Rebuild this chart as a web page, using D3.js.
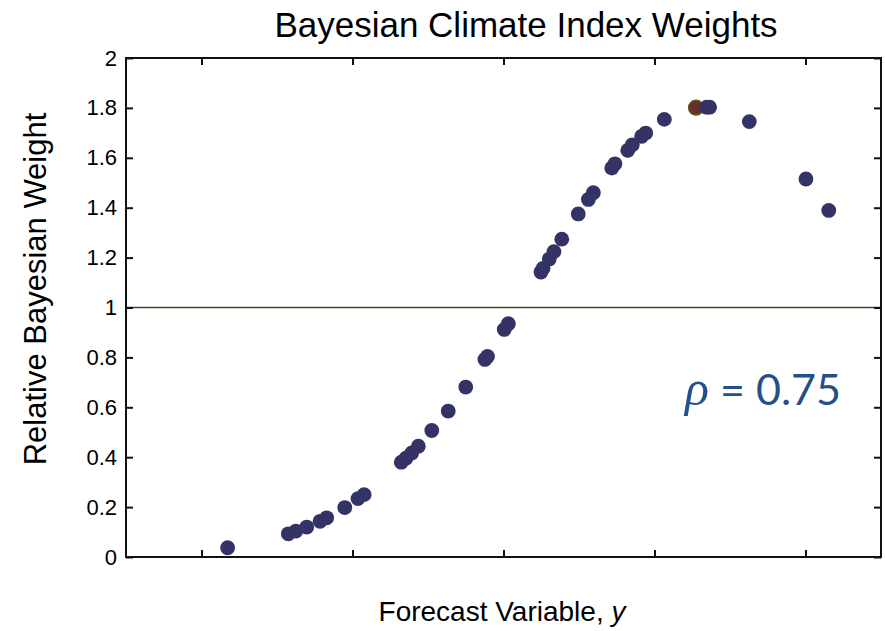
<!DOCTYPE html>
<html>
<head>
<meta charset="utf-8">
<script src="https://cdn.jsdelivr.net/npm/d3@7"></script>
<style>
    html, body { margin: 0; padding: 0; background: #ffffff; }
    #chart-vis text { font-family: Arial, "Liberation Sans", sans-serif; }
</style>
</head>
<body>
<div id="chart-vis"></div>
<script>

/* Data -------------------------------------------------------------------- */

// Forecast variable (x) and relative Bayesian weight (y)
const forecastValues = [
    1.173, 1.575, 1.625, 1.697, 1.785, 1.829, 1.949, 2.036, 2.077, 2.323,
    2.354, 2.392, 2.436, 2.525, 2.634, 2.750, 2.877, 2.894, 3.005, 3.032,
    3.248, 3.262, 3.303, 3.334, 3.386, 3.495, 3.562, 3.595, 3.717, 3.738,
    3.823, 3.853, 3.915, 3.942, 4.065, 4.275, 4.345, 4.365, 4.628, 5.003,
    5.154];

const weightValues = [
    0.037, 0.093, 0.104, 0.120, 0.143, 0.157, 0.198, 0.234, 0.250, 0.380,
    0.396, 0.417, 0.444, 0.507, 0.585, 0.681, 0.792, 0.804, 0.912, 0.935,
    1.142, 1.157, 1.194, 1.224, 1.274, 1.375, 1.433, 1.460, 1.559, 1.576,
    1.630, 1.652, 1.686, 1.699, 1.754, 1.801, 1.803, 1.803, 1.745, 1.515,
    1.389];

// Index of the highlighted (observed) point
const highlightIndex = 35;

const yTicks = [0, 0.2, 0.4, 0.6, 0.8, 1, 1.2, 1.4, 1.6, 1.8, 2];
const xTicks = [1, 2, 3, 4, 5];
const referenceWeight = 1;
const rhoValue = "0.75";

const titleText = "Bayesian Climate Index Weights";
const yTitleText = "Relative Bayesian Weight";
const xTitleText = "Forecast Variable, ";

/* Settings ---------------------------------------------------------------- */

const settings = {
    width: 885,
    height: 631,
    margin: { top: 58, right: 4, bottom: 74, left: 126 },
    xMin: 0.5,
    xMax: 5.5,
    yMin: 0,
    yMax: 2,
    radius: 7.4,
    pointColor: "#333366",
    highlightColor: "#6b2c2c",
    highlightStroke: "#5a5a1e",
    refColor: "#45451f",
    rhoColor: "#23508a"
};

/* Draw graphic ------------------------------------------------------------ */

function drawGraphic(settings) {

    const margin = settings.margin;
    const width = settings.width - margin.left - margin.right;
    const height = settings.height - margin.top - margin.bottom;

    const data = forecastValues.map((x, i) => ({ x: x, y: weightValues[i], i: i }));

    const xScale = d3.scaleLinear()
        .domain([settings.xMin, settings.xMax])
        .range([0, width]);

    const yScale = d3.scaleLinear()
        .domain([settings.yMin, settings.yMax])
        .range([height, 0]);

    d3.select("#chart-vis").selectAll("*").remove();

    const vis = d3.select("#chart-vis")
        .append("svg")
        .attr("width", settings.width)
        .attr("height", settings.height);

    // Title
    vis.append("text")
        .text(titleText)
        .attr("x", 526)
        .attr("y", 37)
        .style("text-anchor", "middle")
        .style("font-size", "35px")
        .style("fill", "#000");

    const canvas = vis.append("g")
        .attr("transform", `translate(${margin.left},${margin.top})`);

    // Reference line at weight = 1
    canvas.append("line")
        .attr("x1", 0)
        .attr("x2", width)
        .attr("y1", yScale(referenceWeight))
        .attr("y2", yScale(referenceWeight))
        .style("stroke", settings.refColor)
        .style("stroke-width", 1.5);

    // Axes: ticks point inward on all four sides
    canvas.append("g")
        .attr("class", "axis yaxis")
        .call(d3.axisLeft(yScale)
            .tickValues(yTicks)
            .tickSize(-7)
            .tickPadding(9)
            .tickFormat(d3.format("")));

    canvas.append("g")
        .attr("class", "axis")
        .attr("transform", `translate(${width},0)`)
        .call(d3.axisRight(yScale)
            .tickValues(yTicks)
            .tickSize(-7)
            .tickFormat(""));

    canvas.append("g")
        .attr("class", "axis")
        .attr("transform", `translate(0,${height})`)
        .call(d3.axisBottom(xScale)
            .tickValues(xTicks)
            .tickSize(-7)
            .tickFormat(""));

    canvas.append("g")
        .attr("class", "axis")
        .call(d3.axisTop(xScale)
            .tickValues(xTicks)
            .tickSize(-7)
            .tickFormat(""));

    // Straight frame instead of the axis domain paths
    canvas.selectAll(".axis path").remove();
    canvas.append("rect")
        .attr("width", width)
        .attr("height", height)
        .style("fill", "none")
        .style("stroke", "#111")
        .style("stroke-width", 2);

    canvas.selectAll(".axis line")
        .style("stroke", "#111")
        .style("stroke-width", 2);

    canvas.selectAll(".yaxis text")
        .style("font-size", "22px")
        .style("fill", "#000");

    // Points
    canvas.selectAll(".point")
        .data(data)
        .enter()
        .append("circle")
        .attr("class", "point")
        .attr("cx", d => xScale(d.x))
        .attr("cy", d => yScale(d.y))
        .attr("r", settings.radius)
        .style("fill", d => d.i === highlightIndex ? settings.highlightColor : settings.pointColor)
        .style("stroke", d => d.i === highlightIndex ? settings.highlightStroke : "none")
        .style("stroke-width", 1.5);

    // Rho annotation
    const rho = vis.append("text")
        .attr("x", 685)
        .attr("y", 405)
        .style("font-size", "43px")
        .style("fill", settings.rhoColor);

    rho.append("tspan")
        .text("\u03C1")
        .style("font-family", "'Liberation Serif', 'DejaVu Serif', serif")
        .style("font-style", "italic")
        .style("font-size", "50px");

    rho.append("tspan")
        .text(" = " + rhoValue)
        .style("font-family", "Lato, 'Open Sans', sans-serif");

    // Y-axis title
    vis.append("text")
        .attr("transform", "translate(46,289) rotate(-90)")
        .style("text-anchor", "middle")
        .style("font-size", "31px")
        .style("fill", "#000")
        .text(yTitleText);

    // X-axis title
    const xTitle = vis.append("text")
        .attr("x", 502)
        .attr("y", 621)
        .style("text-anchor", "middle")
        .style("font-size", "28px")
        .style("fill", "#000");

    xTitle.append("tspan").text(xTitleText);
    xTitle.append("tspan").text("y").style("font-style", "italic");
}

/* Main -------------------------------------------------------------------- */

drawGraphic(settings);

</script>
</body>
</html>
